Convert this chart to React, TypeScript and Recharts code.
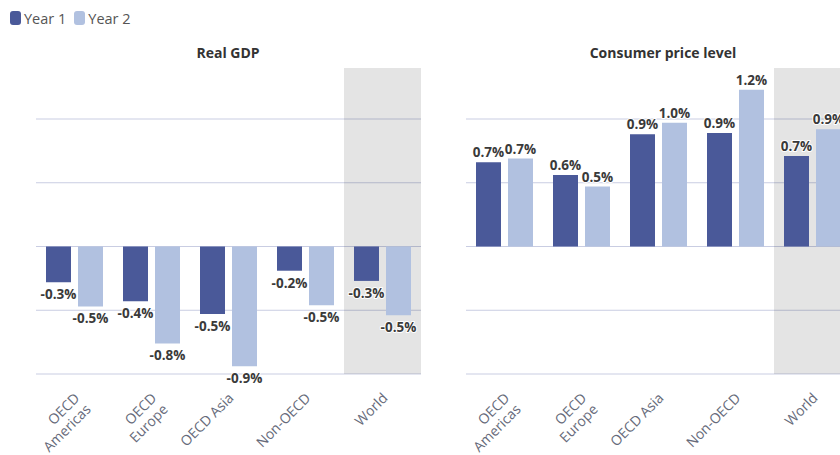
import React from 'react';
import { BarChart, Bar, XAxis, YAxis, CartesianGrid, ReferenceArea, LabelList } from 'recharts';

const categories = ['OECD Americas', 'OECD Europe', 'OECD Asia', 'Non-OECD', 'World'];
const tickLines = [['OECD', 'Americas'], ['OECD', 'Europe'], ['OECD Asia'], ['Non-OECD'], ['World']];
const gdpYear1 = [-0.28, -0.43, -0.53, -0.19, -0.27];
const gdpYear2 = [-0.47, -0.76, -0.94, -0.46, -0.54];
const cpiYear1 = [0.66, 0.56, 0.88, 0.89, 0.71];
const cpiYear2 = [0.69, 0.47, 0.97, 1.23, 0.92];
const seriesNames = ['Year 1', 'Year 2'];
const panelTitles = ['Real GDP', 'Consumer price level'];
const yTicks = [-1, -0.5, 0, 0.5, 1];
const yDomain = [-1, 1.4];
const highlightCategory = 'World';

const COLORS = ['#4a5999', '#b1c1e0'];
const FONT = "'Open Sans', sans-serif";

const buildRows = (a: number[], b: number[]) =>
  categories.map((c, i) => ({ category: c, y1: a[i], y2: b[i] }));

const gdpRows = buildRows(gdpYear1, gdpYear2);
const cpiRows = buildRows(cpiYear1, cpiYear2);

const Tick = (props: any) => {
  const { x, y, payload } = props;
  const idx = categories.indexOf(payload.value);
  const lines = idx >= 0 ? tickLines[idx] : [String(payload.value)];
  const ax = x + 6;
  const ay = y + 17;
  return (
    <text
      transform={`rotate(-45, ${ax}, ${ay})`}
      x={ax}
      y={ay}
      textAnchor="end"
      fill="#666a7a"
      fontSize={14}
      fontFamily={FONT}
    >
      {lines.map((l, i) => (
        <tspan key={i} x={ax} dy={i === 0 ? 0 : 16}>
          {l}
        </tspan>
      ))}
    </text>
  );
};

const ValueLabel = (props: any) => {
  const { x, y, width, height, value } = props;
  const top = Math.min(y, y + height);
  const bottom = Math.max(y, y + height);
  const cx = x + width / 2;
  const ty = value < 0 ? bottom + 12 : top - 10;
  return (
    <text
      x={cx}
      y={ty}
      textAnchor="middle"
      dominantBaseline="central"
      fontSize={13.5}
      fontWeight="bold"
      fontFamily={FONT}
      fill="#3a3a3a"
      stroke="#ffffff"
      strokeWidth={2}
      strokeLinejoin="round"
      paintOrder="stroke"
    >
      {`${Number(value).toFixed(1)}%`}
    </text>
  );
};

const Panel = ({ rows }: { rows: any[] }) => (
  <BarChart
    width={430}
    height={455}
    data={rows}
    margin={{ top: 68, right: 9, left: 36, bottom: 0 }}
    barSize={25}
    barGap={7}
  >
    <ReferenceArea
      x1={highlightCategory}
      x2={highlightCategory}
      fill="#000000"
      fillOpacity={0.105}
      stroke="none"
      strokeWidth={0}
      ifOverflow="visible"
    />
    <CartesianGrid
      horizontal
      vertical={false}
      horizontalValues={yTicks}
      stroke="#c9cde2"
      strokeWidth={1}
    />
    <XAxis
      dataKey="category"
      axisLine={false}
      tickLine={false}
      interval={0}
      height={81}
      tick={<Tick />}
    />
    <YAxis hide domain={yDomain} ticks={yTicks} type="number" allowDataOverflow />
    <Bar dataKey="y1" name={seriesNames[0]} fill={COLORS[0]} isAnimationActive={false}>
      <LabelList dataKey="y1" content={<ValueLabel />} />
    </Bar>
    <Bar dataKey="y2" name={seriesNames[1]} fill={COLORS[1]} isAnimationActive={false}>
      <LabelList dataKey="y2" content={<ValueLabel />} />
    </Bar>
  </BarChart>
);

const Title = ({ text, cx }: { text: string; cx: number }) => (
  <div
    style={{
      position: 'absolute',
      left: cx - 150,
      top: 43,
      width: 300,
      height: 20,
      lineHeight: '20px',
      textAlign: 'center',
      fontFamily: FONT,
      fontWeight: 'bold',
      fontSize: 14,
      color: '#333333',
    }}
  >
    {text}
  </div>
);

const Legend = () => (
  <div
    style={{
      position: 'absolute',
      left: 10,
      top: 8,
      height: 20,
      display: 'flex',
      alignItems: 'center',
      fontFamily: FONT,
      fontSize: 14.5,
      color: '#555555',
    }}
  >
    {seriesNames.map((n, i) => (
      <div key={n} style={{ display: 'flex', alignItems: 'center', marginRight: 8 }}>
        <span
          style={{
            display: 'inline-block',
            width: 11,
            height: 14,
            borderRadius: 3,
            background: COLORS[i],
            marginRight: 3,
          }}
        />
        <span>{n}</span>
      </div>
    ))}
  </div>
);

export default function App() {
  return (
    <div
      style={{
        position: 'absolute',
        left: 0,
        top: 0,
        width: 840,
        height: 455,
        overflow: 'hidden',
        background: '#ffffff',
      }}
    >
      <div style={{ position: 'absolute', left: 0, top: 0 }}>
        <Panel rows={gdpRows} />
      </div>
      <div style={{ position: 'absolute', left: 430, top: 0 }}>
        <Panel rows={cpiRows} />
      </div>
      <Title text={panelTitles[0]} cx={228} />
      <Title text={panelTitles[1]} cx={663} />
      <Legend />
    </div>
  );
}
